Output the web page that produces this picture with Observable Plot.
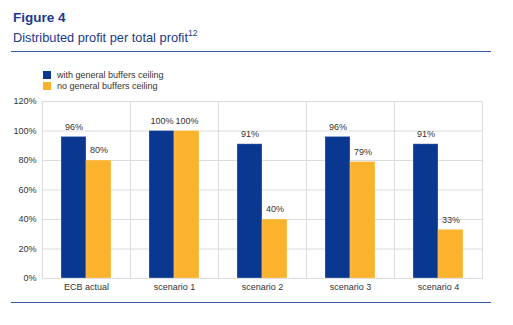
<!DOCTYPE html>
<html>
<head>
<meta charset="utf-8">
<script src="https://cdn.jsdelivr.net/npm/d3@7"></script>
<script src="https://cdn.jsdelivr.net/npm/@observablehq/plot@0.6"></script>
<style>
  body { margin: 0; background: #fff; font-family: "Liberation Sans", Arial, sans-serif; }
  #wrap { position: relative; width: 513px; height: 325px; overflow: hidden; }
  .title { position: absolute; left: 13px; top: 10px; font-size: 13.5px; font-weight: bold; color: #1a3a8e; }
  .subtitle { position: absolute; left: 13px; top: 28.5px; font-size: 12.8px; color: #1a3a8e; }
  .subtitle sup { font-size: 8.5px; position: relative; top: -1px; }
  .rule { position: absolute; left: 11px; width: 480px; height: 0; border-top: 1.5px solid #3557a5; }
  .legend { position: absolute; left: 43px; font-size: 9px; line-height: 10px; color: #333; display: flex; align-items: center; z-index: 2; }
  .legend span.sw { display: inline-block; width: 8px; height: 8px; margin-right: 6px; }
  #chart { position: absolute; left: 0; top: 90px; z-index: 1; }
</style>
</head>
<body>
<div id="wrap">
  <div class="title">Figure 4</div>
  <div class="subtitle">Distributed profit per total profit<sup>12</sup></div>
  <div class="rule" style="top:51px"></div>
  <div id="legend"></div>
  <div id="chart"></div>
  <div class="rule" style="top:302px"></div>
</div>
<script>
const categories = ["ECB actual", "scenario 1", "scenario 2", "scenario 3", "scenario 4"];
const seriesNames = ["with general buffers ceiling", "no general buffers ceiling"];
const withCeiling = [96, 100, 91, 96, 91];
const noCeiling = [80, 100, 40, 79, 33];
const yTicks = [0, 20, 40, 60, 80, 100, 120];
const colors = ["#0a3891", "#fbb32d"];

const data = [];
categories.forEach((c, i) => {
  data.push({category: c, series: seriesNames[0], value: withCeiling[i]});
  data.push({category: c, series: seriesNames[1], value: noCeiling[i]});
});

// legend
const legend = document.getElementById("legend");
seriesNames.forEach((s, i) => {
  const row = document.createElement("div");
  row.className = "legend";
  row.style.top = (70 + i * 11) + "px";
  row.innerHTML = `<span class="sw" style="background:${colors[i]}"></span>${s}`;
  legend.appendChild(row);
});

const chart = Plot.plot({
  width: 513,
  height: 210,
  marginLeft: 42,
  marginRight: 31,
  marginTop: 11,
  marginBottom: 22,
  style: {fontFamily: "Liberation Sans, Arial, sans-serif", fontSize: "9px", color: "#333", background: "transparent"},
  fx: {domain: categories, padding: 0, label: null, tickSize: 0, tickPadding: 5},
  x: {domain: seriesNames, paddingInner: 0, paddingOuter: 0.76, axis: null},
  y: {domain: [0, 120], ticks: yTicks, tickFormat: d => d + "%", label: null, tickSize: 0, tickPadding: 6},
  color: {domain: seriesNames, range: colors},
  marks: [
    Plot.gridY(yTicks, {stroke: "#dcdcdc", strokeOpacity: 1}),
    Plot.frame({stroke: "#dcdcdc"}),
    Plot.barY(data, {fx: "category", x: "series", y: "value", fill: "series", inset: 0, stroke: "#fff", strokeOpacity: 0.35, strokeWidth: 0.8}),
    Plot.text(data, {fx: "category", x: "series", y: "value", text: d => d.value + "%", dy: -10, fill: "#333", fontSize: 9})
  ]
});
document.getElementById("chart").appendChild(chart);
</script>
</body>
</html>
